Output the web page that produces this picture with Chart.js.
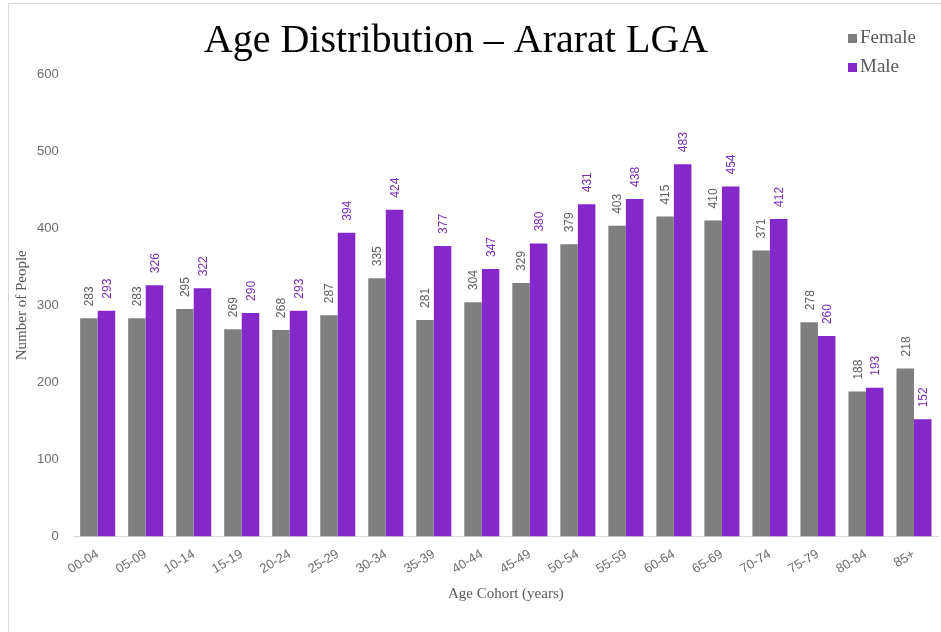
<!DOCTYPE html>
<html lang="en">
<head>
  <meta charset="UTF-8">
  <title>Age Distribution – Ararat LGA</title>
  <script src="https://cdn.jsdelivr.net/npm/chart.js@4.4.1/dist/chart.umd.min.js"></script>
  <style>
    body { margin: 0; background: #fff; }
    #wrap { position: relative; width: 941px; height: 632px; overflow: hidden; }
    #frame {
      position: absolute; left: 8px; top: 3px; width: 960px; height: 660px;
      border-left: 1px solid #d9d9d9; border-top: 1px solid #d9d9d9;
    }
    #ageChart { position: absolute; left: 0; top: 0; }
  </style>
</head>
<body>
  <div id="wrap">
    <div id="frame"></div>
    <canvas id="ageChart" width="941" height="632"></canvas>
  </div>
  <script>
    const cohorts = ["00-04", "05-09", "10-14", "15-19", "20-24", "25-29", "30-34", "35-39", "40-44",
      "45-49", "50-54", "55-59", "60-64", "65-69", "70-74", "75-79", "80-84", "85+"];
    const female = [283, 283, 295, 269, 268, 287, 335, 281, 304, 329, 379, 403, 415, 410, 371, 278, 188, 218];
    const male = [293, 326, 322, 290, 293, 394, 424, 377, 347, 380, 431, 438, 483, 454, 412, 260, 193, 152];
    const yTicks = [0, 100, 200, 300, 400, 500, 600];
    const chartTitle = "Age Distribution – Ararat LGA";

    const barColors = ["#7f7f7f", "#8427cb"];
    const labelColors = ["#5f5f5f", "#7a2fb8"];
    const serif = '"Liberation Serif", "DejaVu Serif", serif';
    const sans = '"Liberation Sans", Arial, sans-serif';

    // numbers written sideways on top of each bar
    const valueLabels = {
      id: "valueLabels",
      afterDatasetsDraw(chart) {
        const ctx = chart.ctx;
        chart.data.datasets.forEach((ds, i) => {
          chart.getDatasetMeta(i).data.forEach((bar, j) => {
            ctx.save();
            ctx.translate(bar.x + 1, bar.y - 12);
            ctx.rotate(-Math.PI / 2);
            ctx.font = "12px " + sans;
            ctx.fillStyle = labelColors[i];
            ctx.textAlign = "left";
            ctx.textBaseline = "middle";
            ctx.fillText(String(ds.data[j]), 0, 0);
            ctx.restore();
          });
        });
      }
    };

    // heading plus a small stacked legend in the top right corner
    const header = {
      id: "header",
      afterDraw(chart) {
        const ctx = chart.ctx;
        ctx.save();
        ctx.font = "40px " + serif;
        ctx.fillStyle = "#000";
        ctx.textAlign = "center";
        ctx.textBaseline = "alphabetic";
        ctx.fillText(chartTitle, 456, 52);

        const x = 848, y0 = 38, step = 29;
        chart.data.datasets.forEach((ds, i) => {
          const y = y0 + i * step;
          ctx.fillStyle = ds.backgroundColor;
          ctx.fillRect(x, y - 4, 9, 9);
          ctx.font = "19px " + serif;
          ctx.fillStyle = "#595959";
          ctx.textAlign = "left";
          ctx.textBaseline = "middle";
          ctx.fillText(ds.label, x + 12, y);
        });
        ctx.restore();
      }
    };

    new Chart(document.getElementById("ageChart"), {
      type: "bar",
      data: {
        labels: cohorts,
        datasets: [
          { label: "Female", data: female, backgroundColor: barColors[0] },
          { label: "Male", data: male, backgroundColor: barColors[1] }
        ]
      },
      options: {
        responsive: false,
        animation: false,
        datasets: { bar: { barPercentage: 1, categoryPercentage: 0.73 } },
        layout: { autoPadding: false, padding: { top: 74, left: 6, right: 3, bottom: 29 } },
        plugins: {
          legend: { display: false },
          tooltip: { enabled: false },
          title: { display: false }
        },
        scales: {
          x: {
            grid: { display: false },
            border: { color: "#d9d9d9" },
            ticks: {
              color: "#6b6b6b",
              font: { family: sans, size: 13 },
              minRotation: 31,
              maxRotation: 31,
              padding: 2
            },
            title: {
              display: true,
              text: "Age Cohort (years)",
              color: "#595959",
              font: { family: serif, size: 15 },
              padding: { top: 6, bottom: 0 }
            }
          },
          y: {
            min: 0,
            max: 600,
            afterBuildTicks(axis) { axis.ticks = yTicks.map(v => ({ value: v })); },
            grid: { display: false, tickLength: 10 },
            border: { display: false },
            ticks: {
              color: "#6b6b6b",
              font: { family: sans, size: 13 },
              padding: 5
            },
            title: {
              display: true,
              text: "Number of People",
              color: "#595959",
              font: { family: serif, size: 15 },
              padding: { top: 7, bottom: 1 }
            }
          }
        }
      },
      plugins: [valueLabels, header]
    });
  </script>
</body>
</html>
